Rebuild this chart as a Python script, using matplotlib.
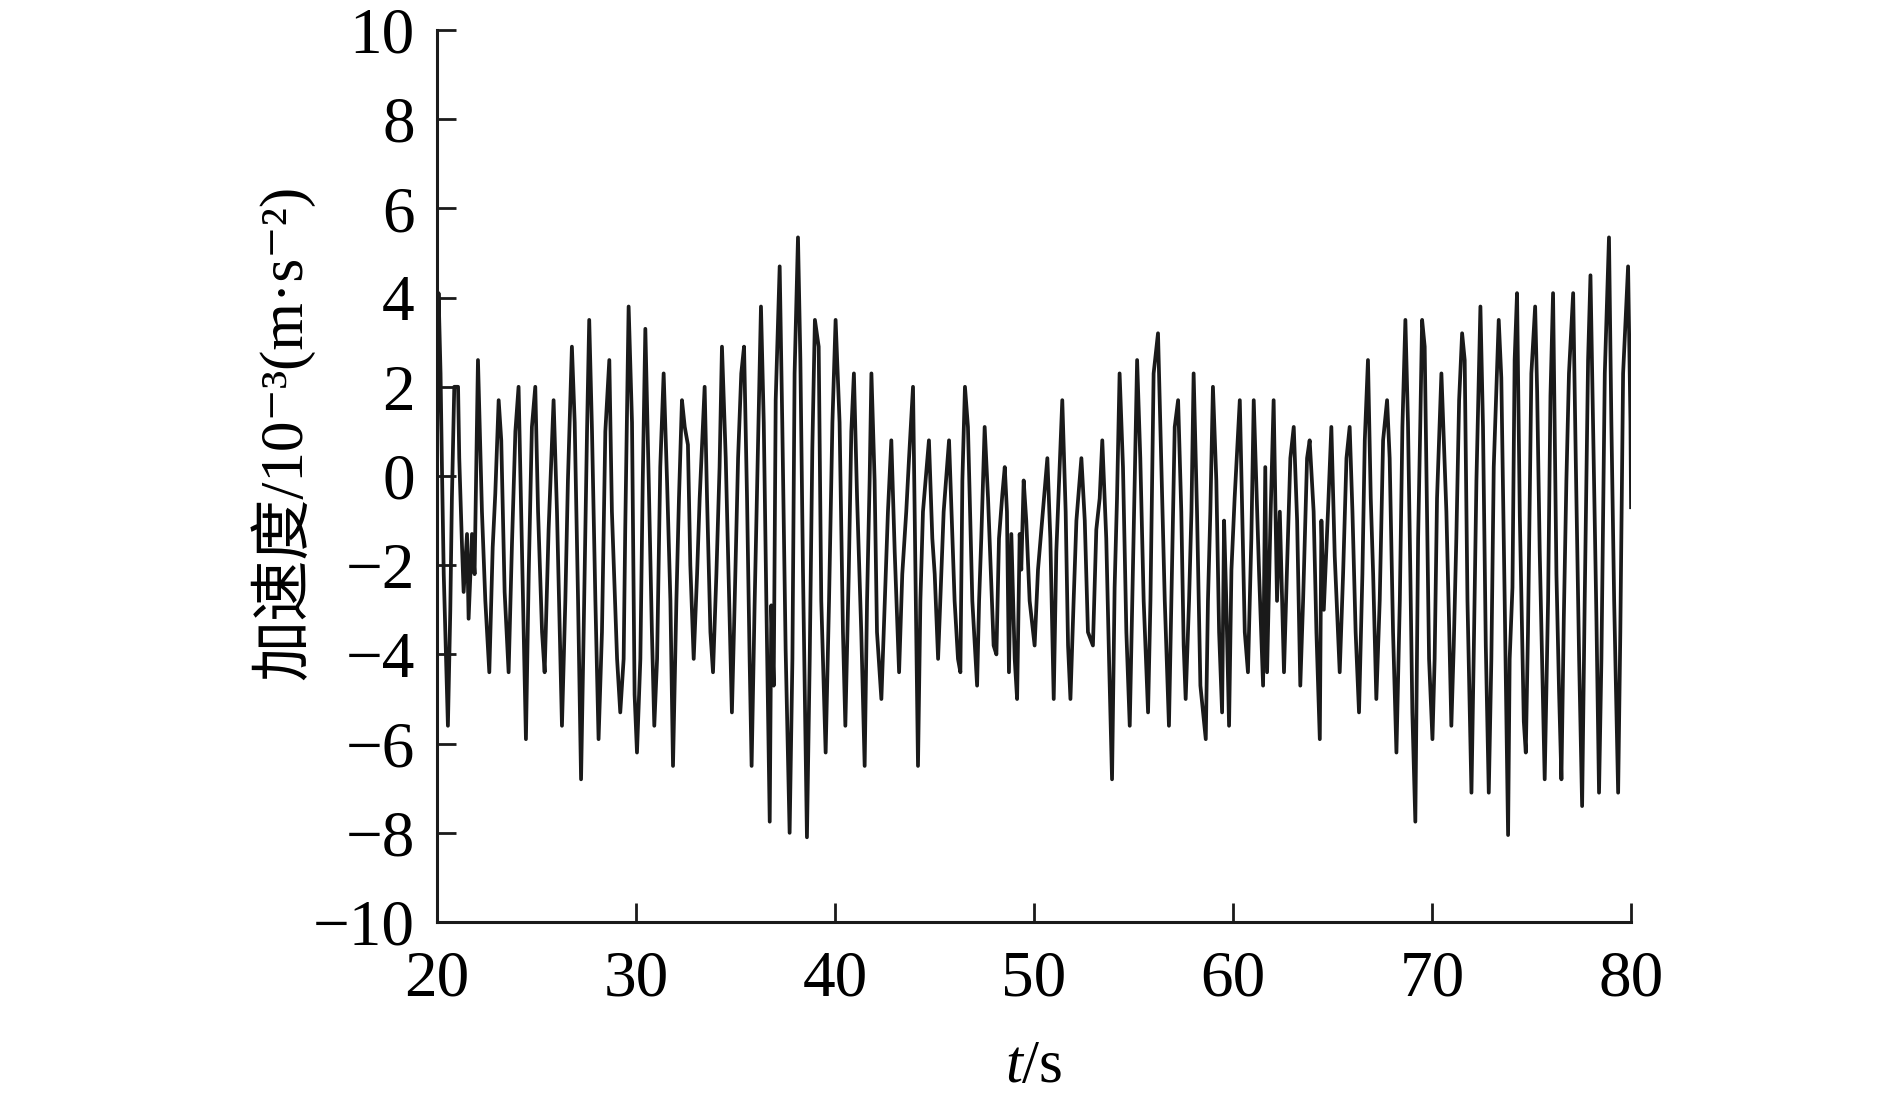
import matplotlib
matplotlib.use('Agg')
import matplotlib.pyplot as plt

plt.rcParams['font.family'] = ['Liberation Serif', 'Noto Sans CJK SC', 'DejaVu Serif']
plt.rcParams['mathtext.fontset'] = 'custom'
plt.rcParams['mathtext.rm'] = 'Liberation Serif'
plt.rcParams['mathtext.it'] = 'Liberation Serif:italic'

# time (s) of the turning points
t = [20.00, 20.08, 20.18, 20.25, 20.34, 20.55, 20.67, 20.75, 20.87, 21.06,
     21.12, 21.26, 21.34, 21.51, 21.59, 21.76, 21.89, 22.06, 22.26, 22.43,
     22.63, 22.80, 22.93, 23.10, 23.23, 23.40, 23.60, 23.77, 23.94, 24.10,
     24.27, 24.47, 24.61, 24.77, 24.94, 25.08, 25.28, 25.41, 25.61, 25.86,
     26.03, 26.28, 26.45, 26.58, 26.78, 26.92, 27.09, 27.24, 27.37, 27.54,
     27.65, 27.79, 27.96, 28.12, 28.29, 28.46, 28.66, 28.79, 29.05, 29.21,
     29.38, 29.46, 29.63, 29.80, 29.93, 30.05, 30.22, 30.34, 30.47, 30.64,
     30.80, 30.92, 31.06, 31.22, 31.39, 31.56, 31.73, 31.86,
     32.03, 32.16, 32.31, 32.45, 32.61, 32.73, 32.90, 33.07, 33.20, 33.45,
     33.57, 33.74, 33.87, 34.04, 34.20, 34.32, 34.51, 34.67, 34.82, 34.96,
     35.13, 35.29, 35.43, 35.58, 35.71, 35.81, 35.96, 36.13, 36.28, 36.42,
     36.55, 36.72, 36.80, 36.92, 37.02, 37.22, 37.35, 37.52, 37.72, 37.86,
     37.97, 38.14, 38.26, 38.39, 38.59, 38.73, 38.86, 38.99, 39.18, 39.31,
     39.53, 39.70, 39.87, 40.03, 40.23, 40.40, 40.52, 40.69, 40.82, 40.95,
     41.11, 41.32, 41.49, 41.61, 41.74, 41.83, 41.99, 42.11, 42.33, 42.50,
     42.66, 42.83, 43.00, 43.22, 43.38, 43.58, 43.72, 43.92, 44.05, 44.17,
     44.29, 44.42, 44.72,
     44.89, 45.01, 45.18, 45.29, 45.46, 45.73, 45.90, 46.01, 46.18, 46.30,
     46.40, 46.53, 46.68, 46.80, 46.90, 47.14, 47.24, 47.35, 47.52, 47.69,
     47.86, 47.97, 48.11, 48.24, 48.41, 48.53, 48.64, 48.74, 48.86, 49.03,
     49.15, 49.28, 49.36, 49.48, 49.61, 49.78, 50.03, 50.20, 50.37, 50.67,
     50.82, 50.99, 51.12, 51.26, 51.42, 51.59, 51.71, 51.83, 51.99, 52.13,
     52.38, 52.55, 52.71, 52.96, 53.13, 53.30, 53.43, 53.63, 53.77, 53.92,
     54.05, 54.17, 54.30, 54.47, 54.64, 54.81, 54.94, 55.06, 55.18, 55.34,
     55.51, 55.73, 55.85, 56.01, 56.23, 56.40, 56.57, 56.78, 56.90, 57.07,
     57.24,
     57.40, 57.52, 57.62, 57.79, 57.91, 58.02, 58.19, 58.36, 58.63, 58.74,
     58.86, 58.99, 59.16, 59.30, 59.45, 59.55, 59.66, 59.80, 59.92, 60.08,
     60.34, 60.47, 60.59, 60.75, 60.92, 61.04, 61.21, 61.31, 61.51, 61.62,
     61.71, 61.88, 62.04, 62.21, 62.35, 62.56, 62.71, 62.88, 63.05, 63.22,
     63.38, 63.52, 63.72, 63.85, 64.05, 64.19, 64.36, 64.44, 64.56, 64.77,
     64.94, 65.11, 65.36, 65.53, 65.70, 65.86, 66.00, 66.16, 66.33, 66.50,
     66.62, 66.78, 66.92, 67.04, 67.20, 67.37, 67.54, 67.74, 67.87, 68.04,
     68.21, 68.38, 68.51, 68.66, 68.79, 68.91, 69.01, 69.16, 69.30, 69.41,
     69.50,
     69.63, 69.75, 69.85, 70.02, 70.13, 70.25, 70.47, 70.59, 70.72, 70.85,
     70.97, 71.09, 71.22, 71.36, 71.51, 71.64, 71.78, 71.98, 72.09, 72.23,
     72.43, 72.56, 72.70, 72.85, 72.98, 73.10, 73.35, 73.48, 73.65, 73.82,
     73.90, 74.04, 74.15, 74.27, 74.41, 74.61, 74.71, 74.82, 74.99, 75.18,
     75.28, 75.41, 75.66, 75.83, 75.95, 76.08, 76.25, 76.38, 76.50, 76.62,
     76.75, 76.88, 77.09, 77.22, 77.39, 77.54, 77.67, 77.84, 77.96, 78.09,
     78.26, 78.39, 78.51, 78.68, 78.89, 79.01, 79.15, 79.35, 79.46, 79.60,
     79.85, 79.97, 80.00]

# acceleration (10^-3 m/s^2)
acc = [0.6, 4.1, 2.3, 0.2, -2.2, -5.6, -3.0, -0.5, 2.0, 2.0,
       0.4, -1.6, -2.6, -1.3, -3.2, -1.3, -2.2, 2.6, -0.8, -2.8,
       -4.4, -1.6, -0.4, 1.7, 0.8, -2.6, -4.4, -1.5, 1.0, 2.0,
       -1.6, -5.9, -2.2, 1.1, 2.0, -0.8, -3.5, -4.4, -1.2, 1.7,
       -0.8, -5.6, -2.8, -0.1, 2.9, 1.2, -2.8, -6.8, -3.5, 1.0,
       3.5, 1.0, -2.8, -5.9, -3.5, 1.0, 2.6, -0.8, -4.1, -5.3,
       -4.1, -1.2, 3.8, 1.2, -4.9, -6.2, -4.1, -0.1, 3.3, -0.1,
       -3.5, -5.6, -4.1, 0.2, 2.3, -0.1, -2.8, -6.5,
       -2.8, -0.5, 1.7, 1.1, 0.7, -2.0, -4.1, -2.2, -0.5, 2.0,
       -0.5, -3.5, -4.4, -2.2, 0.2, 2.9, 0.4, -2.5, -5.3, -2.8,
       0.4, 2.3, 2.9, -0.5, -4.1, -6.5, -2.9, 0.6, 3.8, 1.2,
       -2.8, -7.75, -2.9, -4.7, 1.7, 4.7, 1.2, -3.9, -8.0, -4.1,
       2.3, 5.35, 2.6, -2.1, -8.1, -4.1, 0.6, 3.5, 2.9, -2.8,
       -6.2, -2.8, 1.2, 3.5, 1.2, -3.5, -5.6, -2.2, 1.0, 2.3,
       -0.5, -3.5, -6.5, -2.8, -0.1, 2.3, -0.1, -3.5, -5.0, -2.8,
       -0.8, 0.8, -1.7, -4.4, -2.2, -0.8, 0.4, 2.0, -2.5, -6.5,
       -2.8, -0.8, 0.8,
       -1.4, -2.2, -4.1, -2.8, -0.8, 0.8, -1.4, -2.8, -4.1, -4.4,
       -0.1, 2.0, 1.1, -1.0, -2.8, -4.7, -2.8, -1.4, 1.1, -0.5,
       -2.5, -3.8, -4.0, -1.4, -0.4, 0.2, -0.8, -4.4, -1.3, -4.1,
       -5.0, -1.3, -2.1, -0.1, -1.0, -2.8, -3.8, -2.1, -1.2, 0.4,
       -1.4, -5.0, -1.7, -0.1, 1.7, -0.8, -3.8, -5.0, -2.8, -1.0,
       0.4, -1.0, -3.5, -3.8, -1.2, -0.5, 0.8, -1.4, -4.1, -6.8,
       -2.5, -0.5, 2.3, 0.2, -3.5, -5.6, -2.8, -0.1, 2.6, 0.4,
       -2.8, -5.3, -2.8, 2.3, 3.2, 0.2, -2.8, -5.6, -2.8, 1.1,
       1.7,
       -0.8, -3.8, -5.0, -2.8, -0.8, 2.3, -0.8, -4.7, -5.9, -2.8,
       -0.8, 2.0, -0.1, -3.5, -5.3, -1.0, -2.8, -5.6, -2.1, -0.5,
       1.7, -1.0, -3.5, -4.4, -1.4, 1.7, -0.8, -2.2, -4.7, 0.2,
       -4.4, -1.0, 1.7, -2.8, -0.8, -4.4, -2.1, 0.4, 1.1, -1.0,
       -4.7, -2.8, 0.4, 0.8, -0.8, -3.5, -5.9, -1.0, -3.0, -0.8,
       1.1, -1.8, -4.4, -2.2, 0.4, 1.1, -0.8, -3.5, -5.3, -2.2,
       0.8, 2.6, -0.5, -2.2, -5.0, -2.8, 0.8, 1.7, 0.4, -3.5,
       -6.2, -2.8, 1.1, 3.5, 1.2, -2.2, -5.3, -7.75, -1.4, 1.2,
       3.5,
       2.9, -1.0, -4.1, -5.9, -4.1, -0.5, 2.3, 0.8, -0.8, -3.2,
       -5.6, -3.8, -1.4, 1.7, 3.2, 2.6, -2.8, -7.1, -4.1, -0.1,
       3.8, 1.1, -3.8, -7.1, -4.1, 0.2, 3.5, 2.2, -2.8, -8.05,
       -4.1, -2.5, 2.6, 4.1, -0.9, -5.5, -6.2, -3.5, 2.3, 3.8,
       1.9, -1.7, -6.8, -2.8, 1.8, 4.1, -2.2, -4.8, -6.8, -3.2,
       -0.1, 2.3, 4.1, 0.4, -4.1, -7.4, -2.8, 2.6, 4.5, 1.2,
       -3.2, -7.1, -4.1, 2.3, 5.35, 1.2, -2.8, -7.1, -3.5, 2.3,
       4.7, 1.2, -0.7]

xticks = [20, 30, 40, 50, 60, 70, 80]
yticks = [-10, -8, -6, -4, -2, 0, 2, 4, 6, 8, 10]

fig = plt.figure(figsize=(18.9, 11.11), dpi=100)
ax = fig.add_axes([0.2312, 0.1701, 0.6318, 0.8029])
ax.plot(t, acc, color='#1a1a1a', lw=2.7)

ax.set_xlim(20, 80)
ax.set_ylim(-10, 10)
ax.set_xticks(xticks)
ax.set_yticks(yticks)
ax.spines['top'].set_visible(False)
ax.spines['right'].set_visible(False)
for s in ['left', 'bottom']:
    ax.spines[s].set_linewidth(2.2)
    ax.spines[s].set_color('#1a1a1a')
ax.tick_params(axis='both', direction='in', length=14, width=2, color='#1a1a1a',
               labelsize=47)
ax.tick_params(axis='x', pad=20)
ax.tick_params(axis='y', pad=16)

ax.set_xlabel('$t$/s', fontsize=44, labelpad=22)
# plain text label so the CJK characters can fall back to Noto Sans CJK
ax.set_ylabel('加速度/10⁻³(m·s⁻²)', fontsize=44)
ax.yaxis.set_label_coords(-0.103, 0.549)

fig.savefig('out.png', dpi=100, facecolor='white')
